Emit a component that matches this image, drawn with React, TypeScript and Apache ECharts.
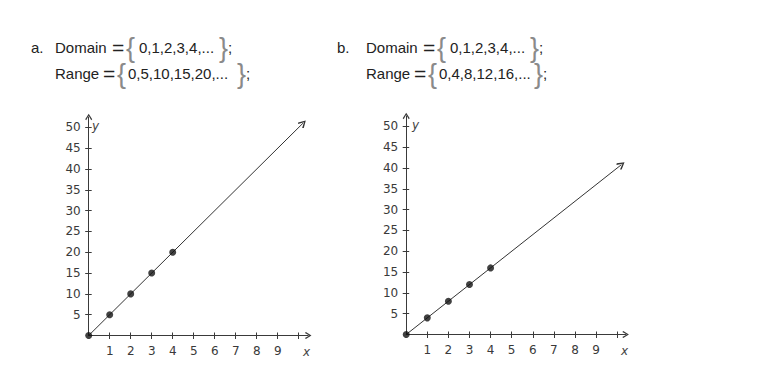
import React, { useEffect, useRef } from 'react';
import * as echarts from 'echarts';

// ---- data ----
const domainTextA = '0,1,2,3,4,...';
const rangeTextA = '0,5,10,15,20,...';
const domainTextB = '0,1,2,3,4,...';
const rangeTextB = '0,4,8,12,16,...';

const xPoints = [0, 1, 2, 3, 4];
const yPointsA = [0, 5, 10, 15, 20];
const yPointsB = [0, 4, 8, 12, 16];
const lineEndA = [10.2, 51];
const lineEndB = [10.2, 40.8];

const xTickValues = [1, 2, 3, 4, 5, 6, 7, 8, 9, 10];
const xLabelValues = [1, 2, 3, 4, 5, 6, 7, 8, 9];
const yTickValues = [5, 10, 15, 20, 25, 30, 35, 40, 45, 50];
const xMaxA = 10.45;
const xMaxB = 10.4;
const yMax = 52.5;

const CHEVRON = 'path://M5,0L10,8L8.6,9.4L5,3L1.4,9.4L0,8Z';
const AXIS_COLOR = '#3a3a3a';
const LABEL_COLOR = '#3a3a3a';
const TICK_FONT = 'DejaVu Sans';
const TITLE_FONT = 'Liberation Sans';

function xAxesFor(grid: number, max: number) {
  return [
    {
      type: 'value', gridIndex: grid, min: 0, max, position: 'bottom',
      axisLine: { show: true, symbol: ['none', CHEVRON], symbolSize: [7, 7], lineStyle: { color: AXIS_COLOR, width: 1 } },
      axisTick: { show: true, customValues: xTickValues, length: 3.5, lineStyle: { color: AXIS_COLOR } },
      axisLabel: { show: true, customValues: xLabelValues, color: LABEL_COLOR, fontFamily: TICK_FONT, fontSize: 12, margin: 9 },
      splitLine: { show: false },
    },
    {
      type: 'value', gridIndex: grid, min: 0, max, position: 'bottom',
      axisLine: { show: false },
      axisTick: { show: true, inside: true, customValues: xTickValues, length: 3, lineStyle: { color: AXIS_COLOR } },
      axisLabel: { show: false },
      splitLine: { show: false },
    },
  ];
}

function yAxesFor(grid: number) {
  return [
    {
      type: 'value', gridIndex: grid, min: 0, max: yMax, position: 'left',
      axisLine: { show: true, symbol: ['none', CHEVRON], symbolSize: [7, 7], lineStyle: { color: AXIS_COLOR, width: 1 } },
      axisTick: { show: true, customValues: yTickValues, length: 3.5, lineStyle: { color: AXIS_COLOR } },
      axisLabel: { show: true, customValues: yTickValues, color: LABEL_COLOR, fontFamily: TICK_FONT, fontSize: 12, margin: 8 },
      splitLine: { show: false },
    },
    {
      type: 'value', gridIndex: grid, min: 0, max: yMax, position: 'left',
      axisLine: { show: false },
      axisTick: { show: true, inside: true, customValues: yTickValues, length: 3, lineStyle: { color: AXIS_COLOR } },
      axisLabel: { show: false },
      splitLine: { show: false },
    },
  ];
}

function seriesFor(idx: number, ys: number[], end: number[]) {
  return {
    type: 'scatter',
    xAxisIndex: idx * 2,
    yAxisIndex: idx * 2,
    data: xPoints.map((x, i) => [x, ys[i]]),
    symbolSize: 7,
    itemStyle: { color: '#111' },
    silent: true,
    z: 5,
    markLine: {
      silent: true,
      symbol: ['none', CHEVRON],
      symbolSize: [8, 8],
      label: { show: false },
      lineStyle: { color: '#333', width: 1, type: 'solid' },
      emphasis: { disabled: true },
      data: [[{ coord: [0, 0] }, { coord: end }]],
    },
  };
}

// x offsets of each title piece, relative to the start of the word "Domain" / "Range"
const L1 = { eq: 57, ob: 71, txt: 84, cb: 164, sc: 173 };
const L2A = { eq: 48, ob: 62, txt: 73, cb: 182, sc: 191 };
const L2B = { eq: 48, ob: 62, txt: 73, cb: 168, sc: 177 };

function titleTexts(prefix: string, px: number, x0: number, l1: any, l2: any, dom: string, rng: string) {
  const y1 = 47;
  const y2 = 73;
  const t = (text: string, x: number, y: number, size: number, fill = '#222') => ({
    type: 'text', x, y, style: { fontFamily: TITLE_FONT, verticalAlign: 'middle', text, fontSize: size, fill },
  });
  return [
    t(prefix, px, y1, 15),
    t('Domain', x0, y1, 15),
    t('=', x0 + l1.eq, y1 + 0.5, 21),
    t('{', x0 + l1.ob, y1 + 0.5, 27, '#8a8a8a'),
    t(dom, x0 + l1.txt, y1, 15),
    t('}', x0 + l1.cb, y1 + 0.5, 27, '#8a8a8a'),
    t(';', x0 + l1.sc, y1, 15),
    t('Range', x0, y2, 15),
    t('=', x0 + l2.eq, y2 + 0.5, 21),
    t('{', x0 + l2.ob, y2 + 0.5, 27, '#8a8a8a'),
    t(rng, x0 + l2.txt, y2, 15),
    t('}', x0 + l2.cb, y2 + 0.5, 27, '#8a8a8a'),
    t(';', x0 + l2.sc, y2, 15),
  ];
}

export default function App() {
  const ref = useRef<HTMLDivElement>(null);
  useEffect(() => {
    if (!ref.current) return;
    const chart = echarts.init(ref.current, undefined, { renderer: 'svg' });
    const axisNameStyle = { fontFamily: TICK_FONT, fontSize: 12, fontStyle: 'italic', fill: '#444', verticalAlign: 'middle' };
    chart.setOption({
      animation: false,
      backgroundColor: '#fff',
      grid: [
        { left: 88.7, top: 117, width: 219.5, height: 218.5 },
        { left: 406.2, top: 116, width: 219.4, height: 218.5 },
      ],
      xAxis: [...xAxesFor(0, xMaxA), ...xAxesFor(1, xMaxB)],
      yAxis: [...yAxesFor(0), ...yAxesFor(1)],
      series: [seriesFor(0, yPointsA, lineEndA), seriesFor(1, yPointsB, lineEndB)],
      graphic: [
        ...titleTexts('a.', 31, 55, L1, L2A, domainTextA, rangeTextA),
        ...titleTexts('b.', 337, 366, L1, L2B, domainTextB, rangeTextB),
        { type: 'text', x: 92, y: 126, style: { ...axisNameStyle, text: 'y' } },
        { type: 'text', x: 303, y: 352, style: { ...axisNameStyle, text: 'x' } },
        { type: 'text', x: 412, y: 125, style: { ...axisNameStyle, text: 'y' } },
        { type: 'text', x: 621, y: 351, style: { ...axisNameStyle, text: 'x' } },
      ],
    });
    return () => chart.dispose();
  }, []);
  return <div ref={ref} style={{ position: 'fixed', left: 0, top: 0, width: 764, height: 374 }} />;
}
